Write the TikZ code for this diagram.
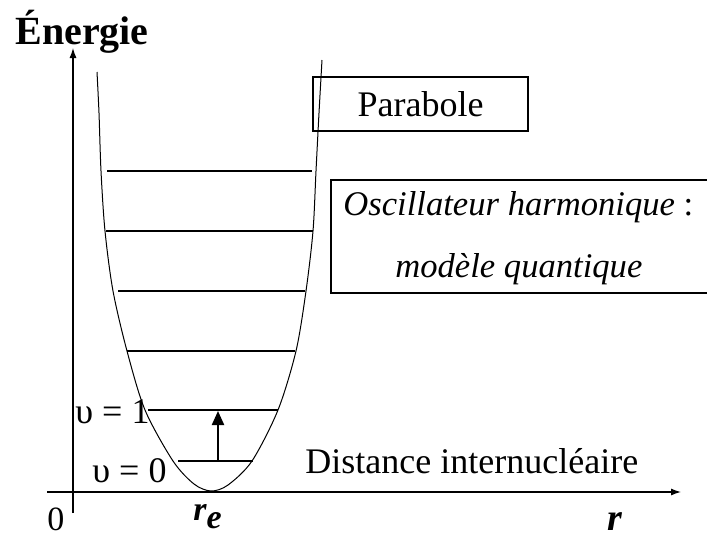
\documentclass[tikz,border=0pt]{standalone}
\usepackage{fontspec}
\setmainfont{Liberation Serif}
\usetikzlibrary{arrows.meta}

\tikzset{
  txt/.style={inner sep=0pt, anchor=base west, font=\fontsize{18}{22}\selectfont},
  niveau/.style={line width=0.6pt},
  courbe/.style={line width=0.5pt},
  axe/.style={line width=0.6pt, -{Latex[length=5pt,width=3.5pt]}},
  transition/.style={line width=1.1pt, -{Triangle[length=7pt,width=6pt]}},
  cadre/.style={draw, line width=0.6pt, inner sep=0pt, font=\fontsize{18}{22}\selectfont}
}

\begin{document}
\begin{tikzpicture}[x=0.5pt,y=-0.5pt]
			\useasboundingbox (0,0) rectangle (707,536);
			\clip (0,0) rectangle (707,536);
			% axes
			\coordinate (xdebut) at (47,492);
			\coordinate (xfin) at (681,492);
			\coordinate (ydebut) at (73,513);
			\coordinate (yfin) at (73,48);
			\draw[axe] (xdebut) -- (xfin);
			\draw[axe] (ydebut) -- (yfin);
			\node[txt, font=\fontsize{20}{24}\selectfont\bfseries] (energie) at (15,44) {Énergie};
			\node[txt, font=\fontsize{17}{20}\selectfont] (zero) at (47,530) {0};
			\node[txt, font=\fontsize{17}{20}\selectfont\bfseries\itshape] (re) at (193,520) {r\raisebox{-4pt}{e}};
			\node[txt, font=\fontsize{19}{22}\selectfont\bfseries\itshape] (r) at (607,530) {r};
			\node[txt] (distance) at (305,473) {Distance internucléaire};
			% puits
			\draw[courbe] plot[smooth] coordinates {(97,72) (99,113) (101,171) (105,231) (113,291) (127,351) (145,410) (173,461) (194,484) (211,491) (228,485) (252,461) (278,410) (296,351) (306,291) (313,231) (316,171) (319,113) (322,60)};
			\foreach \y / \a / \b in { 171 / 107 / 312, 231 / 106 / 313, 291 / 118 / 305, 351 / 127 / 295, 410 / 148 / 278, 461 / 178 / 253 }
			\draw[niveau] (\a,\y) -- (\b,\y);
			\coordinate (vzero) at (218,461);
			\coordinate (vun) at (218,411);
			\draw[transition] (vzero) -- (vun);
			\node[txt] (labun) at (75,423) {υ = 1};
			\node[txt] (labzero) at (92,482) {υ = 0};
			% cadres
			\node[cadre, minimum width=107.5pt, minimum height=27pt] (parabole) at (420.5,104) {Parabole};
			\node[cadre, minimum width=190.5pt, minimum height=56.5pt] (oscillateur) at (521.5,236.5) {};
			\node[txt, font=\fontsize{17.3}{20}\selectfont] (oscun) at (343,215) {\textit{Oscillateur harmonique} :};
			\node[txt, font=\fontsize{17.3}{20}\selectfont] (oscdeux) at (395,277) {\textit{modèle quantique}};
	\end{tikzpicture}
\end{document}
